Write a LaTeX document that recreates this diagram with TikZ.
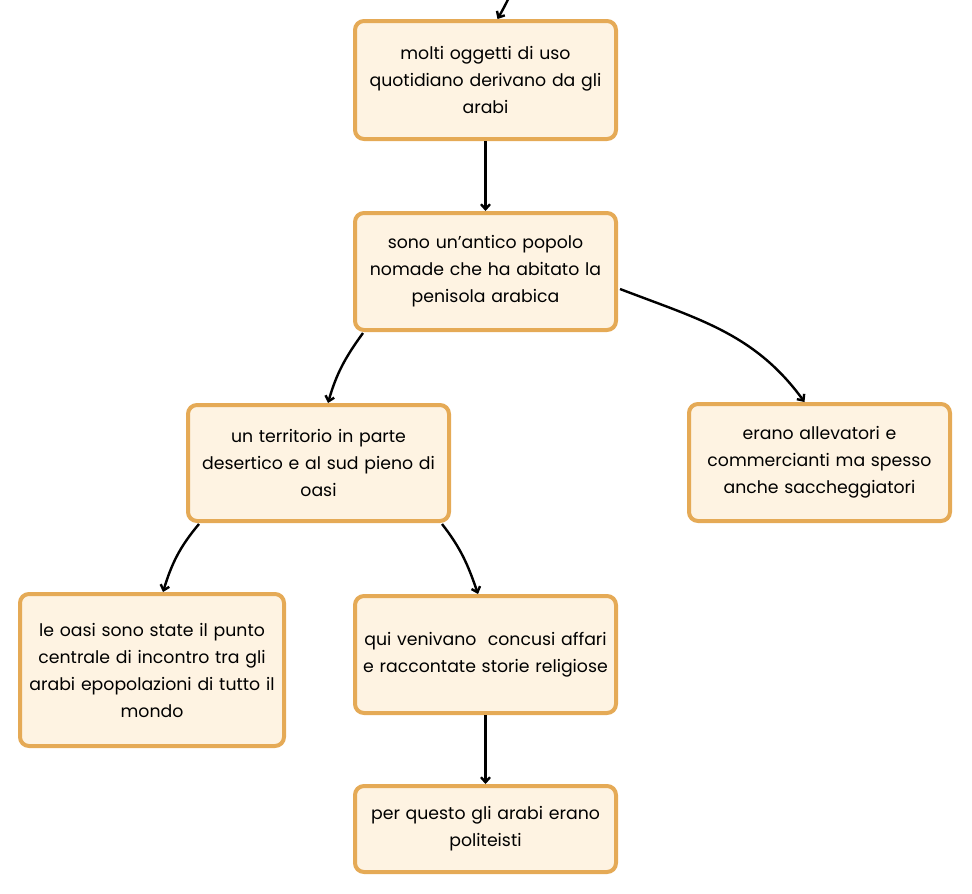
\documentclass[tikz,border=0pt]{standalone}
\usepackage{fontspec}
\setmainfont{Poppins}
\usetikzlibrary{arrows.meta}
\definecolor{boxfill}{RGB}{254,243,226}
\definecolor{boxline}{RGB}{229,170,86}
\begin{document}
\begin{tikzpicture}[x=1pt,y=-1pt,
  box/.style={draw=boxline,fill=boxfill,line width=4pt,rounded corners=9pt,
    minimum width=261pt,text width=256pt,align=center,
    font=\fontsize{17.3}{27}\selectfont,inner sep=0pt},
  arr/.style={draw=black,line width=2.4pt,-{Straight Barb[length=5pt,width=9pt]}}]
\useasboundingbox (0,0) rectangle (972,894);
\node[box,minimum height=118pt] (b1) at (485.5,80) {molti oggetti di uso\\quotidiano derivano da gli\\arabi};
\node[box,minimum height=117pt] (b2) at (485.5,271.5) {sono un'antico popolo\\nomade che ha abitato la\\penisola arabica};
\node[box,minimum height=116pt] (b3) at (318.5,463) {un territorio in parte\\desertico e al sud pieno di\\oasi};
\node[box,minimum height=117pt] (b4) at (819.5,462.5) {erano allevatori e\\commercianti ma spesso\\anche saccheggiatori};
\node[box,minimum width=264pt,minimum height=152pt] (b5) at (152,670) {le oasi sono state il punto\\centrale di incontro tra gli\\arabi epopolazioni di tutto il\\mondo};
\node[box,minimum height=117pt] (b6) at (485.5,654.5) {qui venivano\ \ concusi affari\\e raccontate storie religiose};
\node[box,minimum height=86pt] (b7) at (485.5,829) {per questo gli arabi erano\\politeisti};
\coordinate (top) at (514,-12);
\draw[arr] (top) to[out=-118,in=60] ([xshift=12pt]b1.north);
\draw[arr] (b1.south) -- (b2.north);
\draw[arr] ([xshift=10pt,yshift=-1pt]b2.south west) to[out=-126,in=74] ([xshift=9.5pt]b3.north);
\draw[arr] ([yshift=-17.5pt,xshift=2pt]b2.east) to[out=-21,in=126] ([xshift=-15pt]b4.north);
\draw[arr] ([xshift=13pt,yshift=-1pt]b3.south west) to[out=-130,in=73] ([xshift=11pt]b5.north);
\draw[arr] ([xshift=-9pt,yshift=-1pt]b3.south east) to[out=-52,in=109] ([xshift=-7.5pt]b6.north);
\draw[arr] (b6.south) -- (b7.north);
\end{tikzpicture}
\end{document}
